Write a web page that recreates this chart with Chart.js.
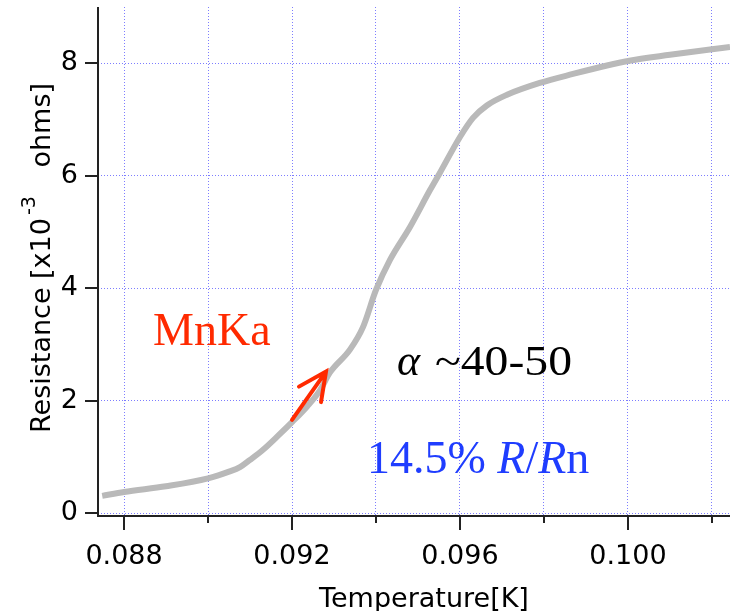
<!DOCTYPE html>
<html>
<head>
<meta charset="utf-8">
<script src="https://cdn.jsdelivr.net/npm/chart.js@4/dist/chart.umd.min.js"></script>
<style>
html, body { margin: 0; padding: 0; background: #fff; }
#wrap { width: 730px; height: 611px; }
</style>
</head>
<body>
<div id="wrap"><canvas id="chart" width="730" height="611"></canvas></div>
<script>
// temperature [K] and resistance [x10^-3 ohms]
const temps = [0.08748, 0.0880, 0.0890, 0.0900, 0.0905, 0.09076, 0.0910, 0.09131, 0.09167, 0.0920,
  0.09236, 0.09267, 0.0929, 0.09338, 0.09369, 0.0940, 0.09433, 0.09481, 0.09529, 0.09552,
  0.0960, 0.09631, 0.09664, 0.09712, 0.0979, 0.09869, 0.0995, 0.1000, 0.1010, 0.1020, 0.10243];
const resist = [0.31, 0.38, 0.48, 0.62, 0.74, 0.82, 0.95, 1.13, 1.38, 1.62,
  1.9, 2.19, 2.5, 2.91, 3.31, 3.97, 4.5, 5.09, 5.75, 6.05,
  6.69, 7.03, 7.25, 7.44, 7.65, 7.81, 7.96, 8.04, 8.15, 8.25, 8.29];

const xTicks = [0.088, 0.090, 0.092, 0.094, 0.096, 0.098, 0.100, 0.102];
const xLabels = ['0.088', '', '0.092', '', '0.096', '', '0.100', ''];
const yTicks = [0, 2, 4, 6, 8];
const yLabels = ['0', '2', '4', '6', '8'];

const xTitle = 'Temperature[K]';
const yTitle = ['Resistance [x10', '-3', 'ohms]'];

// annotations, in data coordinates
const noteMn = { text: 'MnKa', x: 0.08869, y: 2.99 };
const noteAlpha = { x: 0.0945, y: 2.46 };
const noteRatio = { x: 0.093786, y: 0.72 };
const arrow = { from: [0.0920, 1.66], to: [0.09281, 2.52] };

const sans = 'DejaVu Sans';
const serif = 'Liberation Serif';
const gridColor = 'rgb(125,125,255)';

const noPad = s => { s.paddingTop = 0; s.paddingBottom = 0; s.paddingLeft = 0; s.paddingRight = 0; };

const decor = {
  id: 'decor',
  afterDraw(chart) {
    const { ctx, chartArea: a, scales: { x, y } } = chart;
    ctx.save();

    // axis lines + tick marks
    ctx.strokeStyle = '#222';
    ctx.lineWidth = 2;
    ctx.beginPath();
    ctx.moveTo(a.left, a.top);
    ctx.lineTo(a.left, a.bottom + 1);
    ctx.lineTo(a.right, a.bottom + 1);
    yTicks.forEach(v => {
      const py = Math.round(y.getPixelForValue(v));
      ctx.moveTo(a.left - 13, py);
      ctx.lineTo(a.left, py);
    });
    xTicks.forEach((v, i) => {
      const px = Math.round(x.getPixelForValue(v));
      ctx.moveTo(px, a.bottom);
      ctx.lineTo(px, a.bottom + (xLabels[i] ? 15 : 8));
    });
    ctx.stroke();

    // axis titles
    ctx.fillStyle = '#000';
    ctx.textBaseline = 'alphabetic';
    ctx.font = '27px "' + sans + '"';
    ctx.textAlign = 'center';
    ctx.fillText(xTitle, 424, 607);

    ctx.save();
    ctx.translate(50, 433);
    ctx.rotate(-Math.PI / 2);
    ctx.textAlign = 'left';
    ctx.fillText(yTitle[0], 0, 0);
    const w0 = ctx.measureText(yTitle[0]).width;
    ctx.font = '19px "' + sans + '"';
    ctx.fillText(yTitle[1], w0 + 3, -15);
    ctx.font = '27px "' + sans + '"';
    ctx.textAlign = 'right';
    ctx.fillText(yTitle[2], 350, 0);
    ctx.restore();

    // MnKa label
    ctx.textAlign = 'left';
    ctx.fillStyle = '#ff2a00';
    ctx.font = '46px "' + serif + '"';
    ctx.fillText(noteMn.text, x.getPixelForValue(noteMn.x), y.getPixelForValue(noteMn.y));

    // arrow
    const x0 = x.getPixelForValue(arrow.from[0]), y0 = y.getPixelForValue(arrow.from[1]);
    const x1 = x.getPixelForValue(arrow.to[0]), y1 = y.getPixelForValue(arrow.to[1]);
    const ang = Math.atan2(y0 - y1, x0 - x1);
    ctx.strokeStyle = '#ff2a00';
    ctx.lineWidth = 4;
    ctx.lineCap = 'round';
    ctx.beginPath();
    ctx.moveTo(x0, y0);
    ctx.lineTo(x1, y1);
    ctx.moveTo(x1 + 31 * Math.cos(ang + 0.45), y1 + 31 * Math.sin(ang + 0.45));
    ctx.lineTo(x1, y1);
    ctx.lineTo(x1 + 31 * Math.cos(ang - 0.45), y1 + 31 * Math.sin(ang - 0.45));
    ctx.stroke();

    // alpha ~40-50
    let px = x.getPixelForValue(noteAlpha.x);
    let py = y.getPixelForValue(noteAlpha.y);
    ctx.fillStyle = '#000';
    ctx.font = 'italic 44px "' + serif + '"';
    ctx.fillText('\u03b1', px, py);
    ctx.font = '42px "' + serif + '"';
    const t = '~40-50';
    const tw = ctx.measureText(t).width;
    ctx.save();
    ctx.translate(px + 38, py);
    ctx.scale(137 / tw, 1);
    ctx.fillText(t, 0, 0);
    ctx.restore();

    // 14.5% R/Rn
    px = x.getPixelForValue(noteRatio.x);
    py = y.getPixelForValue(noteRatio.y);
    ctx.fillStyle = '#1f3dff';
    const parts = [['14.5% ', ''], ['R', 'italic '], ['/', ''], ['R', 'italic '], ['n', '']];
    parts.forEach(([s, st]) => {
      ctx.font = st + '46px "' + serif + '"';
      ctx.fillText(s, px, py);
      px += ctx.measureText(s).width;
    });

    ctx.restore();
  }
};

new Chart(document.getElementById('chart').getContext('2d'), {
  type: 'line',
  data: {
    datasets: [{
      data: temps.map((t, i) => ({ x: t, y: resist[i] })),
      borderColor: '#b9b9b9',
      borderWidth: 6,
      pointRadius: 0,
      fill: false,
      cubicInterpolationMode: 'monotone'
    }]
  },
  options: {
    responsive: false,
    animation: false,
    devicePixelRatio: 1,
    layout: { padding: { top: 7, left: 0, right: 0, bottom: 0 } },
    plugins: { legend: { display: false }, tooltip: { enabled: false } },
    scales: {
      x: {
        type: 'linear',
        min: 0.08738,
        max: 0.10243,
        afterBuildTicks: s => { s.ticks = xTicks.map(v => ({ value: v })); },
        afterFit: s => { s.height = 96; noPad(s); },
        grid: { color: gridColor, lineWidth: 1, drawTicks: false },
        border: { display: false, dash: [1, 2] },
        ticks: {
          autoSkip: false, maxRotation: 0, padding: 26, color: '#000',
          font: { family: sans, size: 27 },
          callback: (v, i) => xLabels[i]
        }
      },
      y: {
        type: 'linear',
        min: -0.03,
        max: 9.0,
        afterBuildTicks: s => { s.ticks = yTicks.map(v => ({ value: v })); },
        afterFit: s => { s.width = 98; noPad(s); },
        grid: { color: gridColor, lineWidth: 1, drawTicks: false },
        border: { display: false, dash: [1, 2] },
        ticks: {
          autoSkip: false, padding: 20, color: '#000',
          font: { family: sans, size: 27 },
          callback: (v, i) => yLabels[i]
        }
      }
    }
  },
  plugins: [decor]
});
</script>
</body>
</html>
